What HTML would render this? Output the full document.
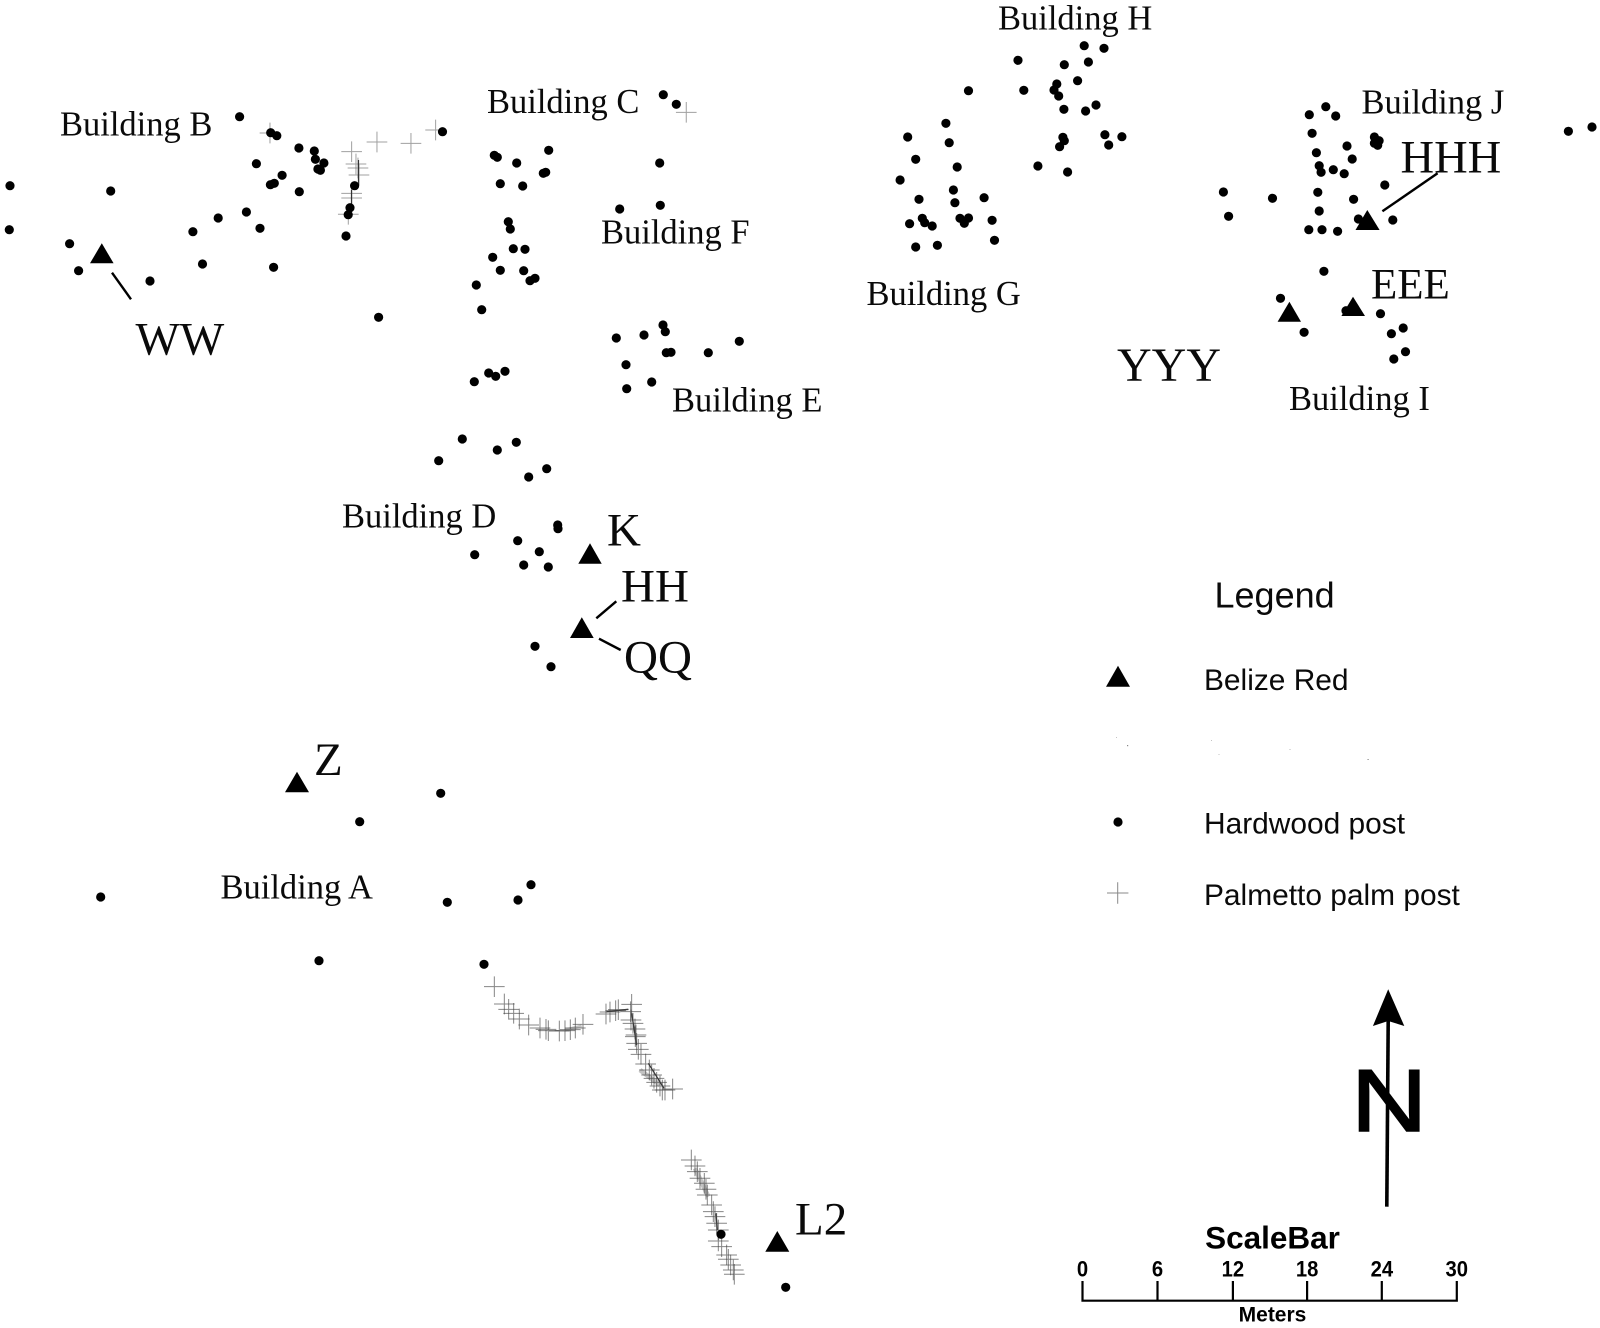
<!DOCTYPE html>
<html lang="en">
<head>
<meta charset="utf-8">
<title>Post map</title>
<style>
html,body{margin:0;padding:0;background:#fff}
svg{display:block}
.s{font-family:"Liberation Serif",serif;fill:#0a0a0a}
.b{font-size:34.5px}
.l{font-size:47px}
.a{font-family:"Liberation Sans",sans-serif;fill:#0a0a0a}
.h{font-family:"Liberation Sans",sans-serif;font-weight:bold;fill:#000;text-anchor:middle}
.d circle{r:4.6px}
</style>
</head>
<body>
<svg xmlns="http://www.w3.org/2000/svg" width="1600" height="1328" viewBox="0 0 1600 1328">
<defs>
<path id="p" d="M-31 0H31M0-31V31" fill="none" stroke="#444" stroke-opacity=".65" stroke-width="3"/>
<path id="q" d="M-31 0H31M0-31V31" fill="none" stroke="#777" stroke-opacity=".7" stroke-width="3"/>
</defs>
<rect width="1600" height="1328" fill="#fff"/>

<!-- palmetto posts -->
<g transform="scale(.3333)">
<use href="#q" x="810" y="399"/><use href="#q" x="1055" y="455"/><use href="#q" x="1131" y="426"/><use href="#q" x="1233" y="430"/><use href="#q" x="1307" y="390"/><use href="#q" x="1068" y="492"/><use href="#q" x="1074" y="504"/><use href="#q" x="1077" y="525"/><use href="#q" x="1055" y="580"/><use href="#q" x="1055" y="594"/><use href="#q" x="1045" y="643"/><use href="#q" x="2059" y="337"/>
</g>
<line x1="358.5" y1="160" x2="358.5" y2="185" stroke="#333" stroke-width="1.2"/>
<line x1="351.5" y1="190" x2="351.5" y2="212" stroke="#333" stroke-width="1.2"/>
<g transform="translate(460 960) scale(.3333)">
<g fill="none" stroke="#888" stroke-opacity=".5">
<line x1="540" y1="330" x2="600" y2="375" stroke-width="14"/>
<line x1="705" y1="625" x2="745" y2="710" stroke-width="14"/>
<line x1="315" y1="210" x2="365" y2="198" stroke-width="9"/>
</g>
<g fill="none" stroke="#333" stroke-width="4">
<line x1="515" y1="160" x2="530" y2="255"/>
<line x1="565" y1="310" x2="612" y2="385"/>
<line x1="768" y1="760" x2="772" y2="810"/>
<line x1="440" y1="155" x2="505" y2="148"/>
</g>
<use href="#p" x="103" y="80"/><use href="#p" x="133" y="132"/><use href="#p" x="146" y="148"/><use href="#p" x="161" y="160"/><use href="#p" x="178" y="177"/><use href="#p" x="206" y="195"/><use href="#p" x="240" y="204"/><use href="#p" x="258" y="208"/><use href="#p" x="265" y="212"/><use href="#p" x="298" y="213"/><use href="#p" x="315" y="212"/><use href="#p" x="331" y="209"/><use href="#p" x="346" y="204"/><use href="#p" x="369" y="193"/>
<use href="#p" x="438" y="162"/><use href="#p" x="450" y="156"/><use href="#p" x="467" y="152"/><use href="#p" x="475" y="149"/><use href="#p" x="515" y="133"/><use href="#p" x="512" y="155"/><use href="#p" x="513" y="180"/><use href="#p" x="519" y="190"/><use href="#p" x="525" y="207"/><use href="#p" x="528" y="225"/><use href="#p" x="526" y="230"/><use href="#p" x="530" y="250"/><use href="#p" x="535" y="268"/><use href="#p" x="543" y="283"/><use href="#p" x="557" y="312"/><use href="#p" x="568" y="330"/><use href="#p" x="575" y="345"/><use href="#p" x="582" y="355"/><use href="#p" x="590" y="367"/><use href="#p" x="600" y="378"/><use href="#p" x="607" y="390"/><use href="#p" x="615" y="390"/><use href="#p" x="638" y="387"/>
<use href="#p" x="694" y="600"/><use href="#p" x="705" y="618"/><use href="#p" x="712" y="635"/><use href="#p" x="720" y="655"/><use href="#p" x="733" y="670"/><use href="#p" x="738" y="688"/><use href="#p" x="742" y="705"/><use href="#p" x="755" y="735"/><use href="#p" x="760" y="755"/><use href="#p" x="765" y="770"/><use href="#p" x="770" y="790"/><use href="#p" x="775" y="810"/><use href="#p" x="775" y="843"/><use href="#p" x="785" y="860"/><use href="#p" x="800" y="885"/><use href="#p" x="805" y="898"/><use href="#p" x="812" y="915"/><use href="#p" x="820" y="930"/><use href="#p" x="823" y="943"/>
</g>

<!-- hardwood posts -->
<g class="d" fill="#000">
<circle cx="239.6" cy="116.7"/><circle cx="270.7" cy="132.7"/><circle cx="276.8" cy="135.7"/><circle cx="298.9" cy="148"/><circle cx="314.3" cy="151"/><circle cx="315.4" cy="159.3"/><circle cx="323.9" cy="163"/><circle cx="317.9" cy="169"/><circle cx="320.4" cy="170.3"/><circle cx="256.4" cy="163.7"/><circle cx="282.1" cy="175.3"/><circle cx="274.3" cy="183.3"/><circle cx="270.4" cy="184.7"/><circle cx="299.3" cy="191.7"/><circle cx="354.6" cy="185.7"/><circle cx="350" cy="207.7"/><circle cx="348.2" cy="214.7"/><circle cx="346" cy="236"/><circle cx="442.5" cy="131.7"/><circle cx="10" cy="185.7"/><circle cx="110.7" cy="191"/><circle cx="9.3" cy="229.7"/><circle cx="69.6" cy="243.7"/><circle cx="78.6" cy="270.7"/><circle cx="150" cy="281"/><circle cx="192.9" cy="231.7"/><circle cx="218.2" cy="218"/><circle cx="246.4" cy="212"/><circle cx="260" cy="228.3"/><circle cx="202.5" cy="264"/><circle cx="273.6" cy="267.3"/><circle cx="378.6" cy="317.3"/>
<circle cx="494.3" cy="155.3"/><circle cx="497.3" cy="157.3"/><circle cx="516.7" cy="163"/><circle cx="548.7" cy="150.3"/><circle cx="545.7" cy="172.3"/><circle cx="543.3" cy="173.3"/><circle cx="500.3" cy="183.7"/><circle cx="522.7" cy="186"/><circle cx="508.3" cy="221.7"/><circle cx="510.3" cy="229"/><circle cx="513.3" cy="248.7"/><circle cx="525" cy="249.3"/><circle cx="492.7" cy="257.3"/><circle cx="500.3" cy="270.3"/><circle cx="523.7" cy="270.7"/><circle cx="535" cy="278.3"/><circle cx="530" cy="280.7"/><circle cx="476.3" cy="285"/><circle cx="481.7" cy="309.7"/><circle cx="474.3" cy="381.7"/><circle cx="488.7" cy="373"/><circle cx="495.7" cy="376.3"/><circle cx="505" cy="371.3"/>
<circle cx="663.3" cy="94.7"/><circle cx="676.3" cy="104.3"/><circle cx="659.7" cy="163"/><circle cx="660.3" cy="205.3"/><circle cx="619.7" cy="209"/><circle cx="616.3" cy="338"/><circle cx="644" cy="335"/><circle cx="663" cy="325"/><circle cx="665.3" cy="331.7"/><circle cx="666.3" cy="352.7"/><circle cx="671" cy="352.3"/><circle cx="708.3" cy="352.7"/><circle cx="739.3" cy="341.3"/><circle cx="626" cy="364.7"/><circle cx="651.7" cy="382"/><circle cx="626.7" cy="388.7"/>
<circle cx="462.3" cy="439"/><circle cx="438.7" cy="460.7"/><circle cx="497.3" cy="450"/><circle cx="516.3" cy="442.3"/><circle cx="528.7" cy="477"/><circle cx="546.7" cy="468.7"/><circle cx="557.7" cy="525"/><circle cx="558" cy="528.7"/><circle cx="517.7" cy="540.7"/><circle cx="539.3" cy="551.7"/><circle cx="474.7" cy="554.7"/><circle cx="523.7" cy="565"/><circle cx="548.3" cy="567"/><circle cx="535" cy="646.3"/><circle cx="551" cy="666.7"/>
<circle cx="1084.2" cy="45.7"/><circle cx="1104" cy="48.3"/><circle cx="1018" cy="60.3"/><circle cx="1064.3" cy="64.7"/><circle cx="1088.4" cy="62"/><circle cx="1077.6" cy="80.7"/><circle cx="1056.8" cy="84"/><circle cx="968.5" cy="90.7"/><circle cx="1023.8" cy="90.3"/><circle cx="1054" cy="90"/><circle cx="1058.7" cy="96"/><circle cx="1063.9" cy="109.3"/><circle cx="1085.6" cy="111"/><circle cx="1096" cy="105"/><circle cx="945.9" cy="123.3"/><circle cx="907.7" cy="137"/><circle cx="949.2" cy="142.7"/><circle cx="1062.9" cy="137.3"/><circle cx="1064.3" cy="140.7"/><circle cx="1059.6" cy="146.7"/><circle cx="1104.9" cy="134.7"/><circle cx="1121.9" cy="136.7"/><circle cx="1108.7" cy="145"/><circle cx="915.7" cy="159.3"/><circle cx="957.2" cy="167"/><circle cx="1037.9" cy="166"/><circle cx="1067.6" cy="172"/><circle cx="900.1" cy="180"/><circle cx="953.4" cy="190"/><circle cx="919" cy="199.3"/><circle cx="954.9" cy="202.7"/><circle cx="984.1" cy="197.7"/><circle cx="922.3" cy="218.3"/><circle cx="924.7" cy="222.7"/><circle cx="909.6" cy="223.7"/><circle cx="932.2" cy="226"/><circle cx="960" cy="218.3"/><circle cx="968.5" cy="218"/><circle cx="964.3" cy="223.3"/><circle cx="992.1" cy="220.3"/><circle cx="994.5" cy="240.3"/><circle cx="915.7" cy="247"/><circle cx="937.4" cy="245.3"/>
<circle cx="1325.8" cy="106.7"/><circle cx="1309.3" cy="114.7"/><circle cx="1335.7" cy="116"/><circle cx="1312.1" cy="133.3"/><circle cx="1374.4" cy="137"/><circle cx="1379.1" cy="140.7"/><circle cx="1377.7" cy="145.3"/><circle cx="1374.4" cy="143.3"/><circle cx="1347" cy="146"/><circle cx="1316.4" cy="152.7"/><circle cx="1352.2" cy="159"/><circle cx="1319.2" cy="165.7"/><circle cx="1321.1" cy="172.3"/><circle cx="1333.3" cy="169.7"/><circle cx="1344.2" cy="173.7"/><circle cx="1384.8" cy="185"/><circle cx="1317.8" cy="192.3"/><circle cx="1353.6" cy="199.3"/><circle cx="1223.4" cy="192"/><circle cx="1272.5" cy="198.3"/><circle cx="1228.6" cy="216.3"/><circle cx="1319.2" cy="211"/><circle cx="1308.8" cy="229.7"/><circle cx="1322" cy="229.7"/><circle cx="1337.6" cy="231.3"/><circle cx="1358.4" cy="219"/><circle cx="1392.8" cy="220"/><circle cx="1323.9" cy="271.3"/><circle cx="1280.5" cy="298.3"/><circle cx="1380.5" cy="313.7"/><circle cx="1304.1" cy="332.3"/><circle cx="1391.4" cy="333.7"/><circle cx="1403.2" cy="328"/><circle cx="1405.5" cy="351.7"/><circle cx="1393.8" cy="359"/><circle cx="1568.4" cy="131.3"/><circle cx="1592" cy="127"/><circle cx="1346" cy="310.7"/>
<circle cx="440.7" cy="793.3"/><circle cx="359.7" cy="821.7"/><circle cx="100.7" cy="897"/><circle cx="447.3" cy="902.3"/><circle cx="518" cy="900"/><circle cx="531" cy="884.7"/><circle cx="319" cy="960.7"/><circle cx="484" cy="964.3"/><circle cx="721" cy="1234.3"/><circle cx="785.7" cy="1287.3"/>
<circle cx="1118" cy="822"/>
</g>

<!-- Belize Red triangles -->
<g fill="#000">
<polygon points="101.8,243.3 113.6,263.3 90,263.3"/>
<polygon points="590,543.3 601.7,563.7 578.3,563.7"/>
<polygon points="581.8,617.3 593.7,638 570,638"/>
<polygon points="297,771.7 309,792.3 285,792.3"/>
<polygon points="777.3,1231 789.3,1251.7 765.3,1251.7"/>
<polygon points="1367.3,210 1379.6,230 1355.5,230"/>
<polygon points="1353,296.7 1365,316 1341.4,316"/>
<polygon points="1289.4,301.7 1301,321.7 1277.6,321.7"/>
<polygon points="1118,665.7 1130,686.7 1106,686.7"/>
</g>

<!-- leader lines -->
<g stroke="#000" stroke-width="2.4" fill="none">
<line x1="112" y1="272.7" x2="131" y2="299.3"/>
<line x1="596.3" y1="618.3" x2="616.3" y2="601.3"/>
<line x1="599" y1="638.7" x2="620.7" y2="650"/>
<line x1="1382.4" y1="211.3" x2="1437.6" y2="173.3"/>
</g>

<!-- building labels -->
<g class="s b">
<text x="60" y="135.3">Building B</text>
<text x="487" y="113">Building C</text>
<text x="601" y="243.7">Building F</text>
<text x="672" y="411.3">Building E</text>
<text x="342" y="527.3">Building D</text>
<text x="220.5" y="898.3">Building A</text>
<text x="998" y="29.3">Building H</text>
<text x="1361.5" y="113.3">Building J</text>
<text x="866.5" y="305">Building G</text>
<text x="1289" y="410">Building I</text>
</g>

<!-- feature labels -->
<g class="s l">
<text x="135.5" y="354.7">WW</text>
<text x="607" y="545.7">K</text>
<text x="621" y="601.7">HH</text>
<text x="624" y="672.7">QQ</text>
<text x="314" y="775">Z</text>
<text x="795" y="1234.3">L2</text>
<text x="1400.5" y="172.7" style="font-size:46.5px">HHH</text>
<text x="1117" y="381" style="font-size:48px">YYY</text>
<text x="1371" y="298.3" style="font-size:43px">EEE</text>
</g>

<!-- legend -->
<text class="a" x="1214.5" y="607.7" font-size="36">Legend</text>
<g class="a" font-size="29.9">
<text x="1204" y="690">Belize Red</text>
<text x="1204" y="833.3">Hardwood post</text>
<text x="1204" y="905">Palmetto palm post</text>
</g>
<path d="M1107 893H1128.4M1117.7 882.3V903.7" stroke="#888" stroke-width="1" fill="none"/>
<g fill="#888">
<rect x="1116" y="737" width="1" height="1" opacity=".5"/><rect x="1127" y="745" width="1.2" height="1.2"/><rect x="1211" y="740" width="1" height="1" opacity=".5"/><rect x="1218.5" y="754" width="1" height="1" opacity=".5"/><rect x="1289.5" y="749" width="1" height="1" opacity=".6"/><rect x="1367.5" y="759" width="1.2" height="1"/>
</g>

<!-- north arrow -->
<text transform="translate(1351 1131) scale(1.2 1)" font-family="'Liberation Sans',sans-serif" font-size="88" fill="#000" stroke="#000" stroke-width="1.6">N</text>
<polygon points="1388.2,989.3 1404.3,1026 1388.2,1021 1372.9,1026" fill="#000"/>
<line x1="1388.2" y1="1021" x2="1386.8" y2="1206.7" stroke="#000" stroke-width="3.6"/>

<!-- scale bar -->
<text class="h" x="1272.5" y="1248.7" font-size="31.5">ScaleBar</text>
<g class="h" font-size="22" transform="scale(.92 1)">
<text x="1176.6" y="1276.5">0</text>
<text x="1258.2" y="1276.5">6</text>
<text x="1340.1" y="1276.5">12</text>
<text x="1420.8" y="1276.5">18</text>
<text x="1502" y="1276.5">24</text>
<text x="1583.5" y="1276.5">30</text>
</g>
<path d="M1082.5 1281V1300.7H1456.8V1281M1157.5 1281V1300.7M1232.9 1281V1300.7M1307.1 1281V1300.7M1381.8 1281V1300.7" fill="none" stroke="#000" stroke-width="2.2"/>
<text class="h" x="1272.5" y="1321.7" font-size="21">Meters</text>
</svg>
</body>
</html>
